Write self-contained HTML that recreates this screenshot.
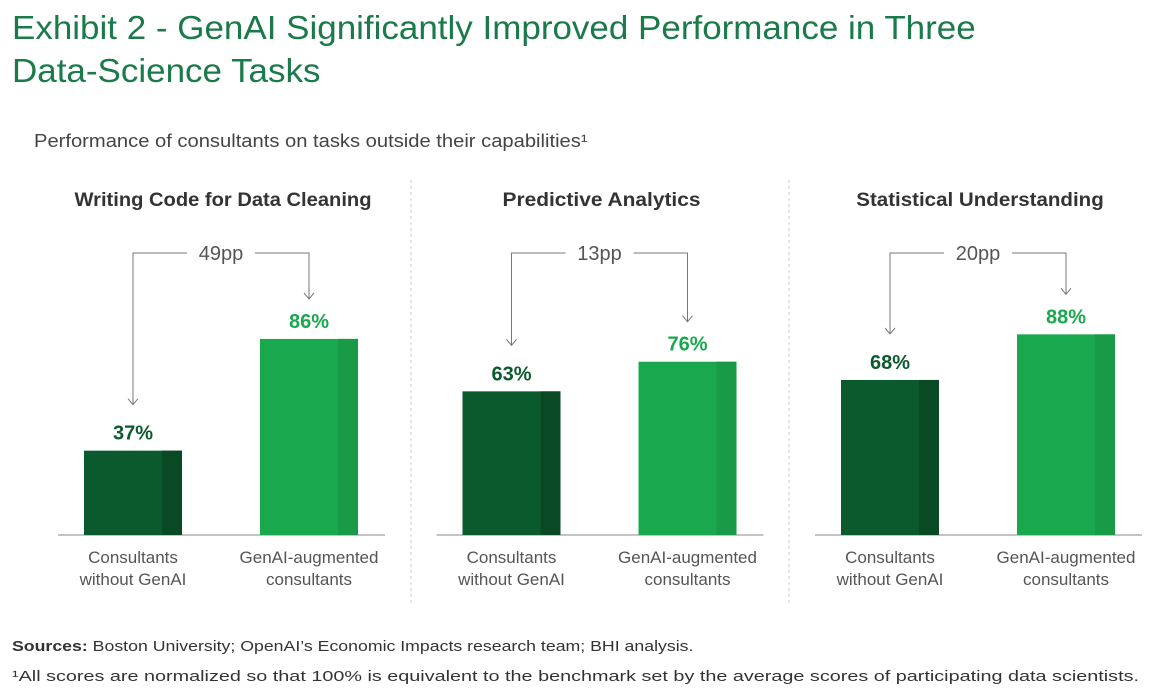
<!DOCTYPE html>
<html><head><meta charset="utf-8"><style>
body{margin:0;width:1163px;height:698px;background:#fff;font-family:"Liberation Sans",sans-serif;position:relative;overflow:hidden}
.t{position:absolute;white-space:nowrap;transform-origin:0 0}
</style></head><body>
<div class="t" style="left:12px;top:6px;font-size:33px;line-height:43px;color:#1a7a4a;transform:scaleX(1.06)">Exhibit 2 - GenAI Significantly Improved Performance in Three<br>Data-Science Tasks</div>
<div class="t" style="left:34px;top:131px;font-size:18px;color:#444;transform:scaleX(1.12)">Performance of consultants on tasks outside their capabilities¹</div>
<svg id="chart" width="1163" height="698" style="position:absolute;left:0;top:0"></svg>
<div class="t" style="left:12px;top:638px;font-size:15px;color:#333;transform:scaleX(1.18)"><b>Sources:</b> Boston University; OpenAI’s Economic Impacts research team; BHI analysis.</div>
<div class="t" style="left:12px;top:668px;font-size:15px;color:#333;transform:scaleX(1.32)">¹All scores are normalized so that 100% is equivalent to the benchmark set by the average scores of participating data scientists.</div>
<script>
const panels=["Writing Code for Data Cleaning","Predictive Analytics","Statistical Understanding"];
const withoutGenAI=[37,63,68];
const withGenAI=[86,76,88];
const diffs=["49pp","13pp","20pp"];
const cats=[["Consultants","without GenAI"],["GenAI-augmented","consultants"]];
const svg=document.getElementById('chart');
const NS="http://www.w3.org/2000/svg";
const base=535, scale=2.28;
const y=v=>base-v*scale;
function mk(tag,attrs,name,text){const e=document.createElementNS(NS,tag);for(const k in attrs)e.setAttribute(k,attrs[k]);


if(text)e.textContent=text;svg.appendChild(e);return e;}
mk('line',{x1:411,y1:180,x2:411,y2:605,stroke:'#ccc','stroke-dasharray':'3,3'},'divider-1');
mk('line',{x1:789,y1:180,x2:789,y2:605,stroke:'#ccc','stroke-dasharray':'3,3'},'divider-2');
panels.forEach((p,i)=>{
 const off=i*378.5;
 mk('text',{x:223+off,y:206,'text-anchor':'middle','font-size':19,'font-weight':'bold',fill:'#333','font-family':'Liberation Sans',textLength:p.length*9.9,lengthAdjust:'spacingAndGlyphs'},'panel-title',p);
 mk('line',{x1:58+off,y1:base,x2:385+off,y2:base,stroke:'#888','stroke-width':1},'baseline');
 const vals=[withoutGenAI[i],withGenAI[i]];
 const cols=[['#0b5a2e','#094a25'],['#1aa84f','#189a47']];
 const xs=[84+off,260+off];
 vals.forEach((v,j)=>{
  const x=xs[j];
  mk('rect',{x:x,y:y(v),width:98,height:v*scale,fill:cols[j][0]},'bar');
  mk('rect',{x:x+78,y:y(v),width:20,height:v*scale,fill:cols[j][1]},'bar-shade');
  mk('text',{x:x+49,y:y(v)-11,'text-anchor':'middle','font-size':20,'font-weight':'bold',fill:j?'#1aa84f':'#0b5a2e','font-family':'Liberation Sans'},'value-label',v+'%');
  cats[j].forEach((l,k)=>mk('text',{x:x+49,y:563+k*22,'text-anchor':'middle','font-size':17,fill:'#555','font-family':'Liberation Sans'},'category-label',l));
 });
 const cx1=xs[0]+49,cx2=xs[1]+49,ty=253;
 const e1=y(vals[0])-46,e2=y(vals[1])-40;
 mk('path',{d:`M${cx1},${e1} V${ty} H${(cx1+cx2)/2-34} M${(cx1+cx2)/2+34},${ty} H${cx2} V${e2}`,fill:'none',stroke:'#777','stroke-width':1},'difference-bracket');
 mk('path',{d:`M${cx1-5},${e1-6} L${cx1},${e1} L${cx1+5},${e1-6} M${cx2-5},${e2-6} L${cx2},${e2} L${cx2+5},${e2-6}`,fill:'none',stroke:'#777','stroke-width':1},'arrowheads');
 mk('text',{x:(cx1+cx2)/2,y:ty+7,'text-anchor':'middle','font-size':20,fill:'#555','font-family':'Liberation Sans'},'difference-label',diffs[i]);
});
</script>
</body></html>
